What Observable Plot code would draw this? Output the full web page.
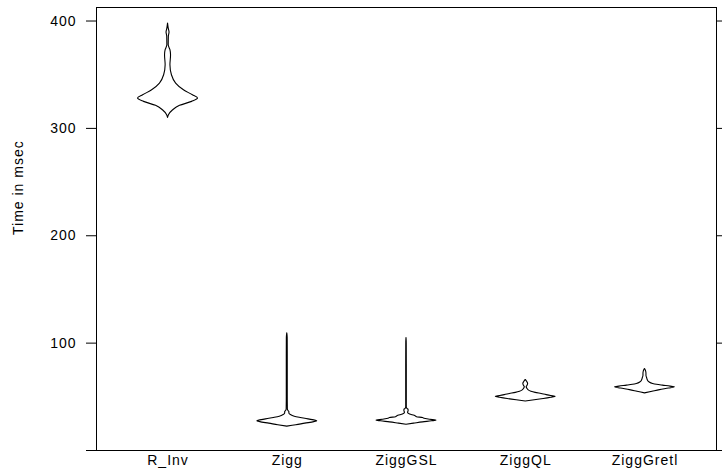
<!DOCTYPE html>
<html>
<head>
<meta charset="utf-8">
<script src="https://cdn.jsdelivr.net/npm/d3@7"></script>
<script src="https://cdn.jsdelivr.net/npm/@observablehq/plot@0.6"></script>
<style>
  html, body { margin: 0; padding: 0; background: white; }
</style>
</head>
<body>
<div id="chart"></div>
<script>
// Categories and tick labels
const categories = ["R_Inv", "Zigg", "ZiggGSL", "ZiggQL", "ZiggGretl"];
const yTicks = [0, 100, 200, 300, 400];

// Violin outlines: time (msec) and relative density (max = 1) per method
const rInvTime = [309.8, 312.2, 316.9, 321.0, 324.7, 327.8, 330.8, 335.5, 341.8, 349.5, 358.8, 368.1, 372.8, 377.4, 385.3, 389.3, 393.0, 397.7];
const rInvDens = [0, 0.03, 0.17, 0.40, 0.80, 1.0, 0.83, 0.53, 0.27, 0.13, 0.08, 0.10, 0.08, 0.023, 0.027, 0.05, 0.023, 0];

const ziggTime = [22.2, 23.5, 25.0, 26.4, 27.3, 28.3, 29.5, 30.3, 31.5, 33.1, 34.5, 35.7, 36.8, 38.0, 50, 70, 90, 105, 109.1];
const ziggDens = [0, 0.3, 0.6, 0.9, 1.0, 0.85, 0.6, 0.45, 0.25, 0.12, 0.07, 0.07, 0.04, 0.02, 0.016, 0.016, 0.016, 0.014, 0];

const gslTime = [24.0, 25.0, 26.2, 27.2, 27.8, 28.6, 29.5, 30.3, 31.0, 32.4, 33.5, 35.2, 36.5, 37.7, 38.8, 40, 60, 80, 100, 104.8];
const gslDens = [0, 0.25, 0.55, 0.85, 1.0, 0.8, 0.6, 0.55, 0.35, 0.27, 0.12, 0.05, 0.07, 0.07, 0.03, 0.01, 0.01, 0.01, 0.008, 0];

const qlTime = [45.7, 46.8, 48.0, 49.2, 50.1, 50.8, 51.6, 52.6, 53.7, 54.8, 56.0, 57.3, 58.8, 60.3, 62.0, 63.8, 65.7];
const qlDens = [0, 0.3, 0.6, 0.85, 1.0, 0.85, 0.7, 0.53, 0.33, 0.19, 0.1, 0.06, 0.03, 0.06, 0.08, 0.05, 0];

const gretlTime = [53.2, 54.7, 56.2, 57.7, 58.8, 59.5, 60.4, 61.2, 62.0, 63.5, 65.1, 67.5, 69.7, 71.5, 73.5, 75.0, 75.9];
const gretlDens = [0, 0.25, 0.5, 0.8, 1.0, 0.85, 0.6, 0.4, 0.27, 0.15, 0.1, 0.07, 0.05, 0.05, 0.04, 0.02, 0];

const series = [
  [rInvTime, rInvDens],
  [ziggTime, ziggDens],
  [gslTime, gslDens],
  [qlTime, qlDens],
  [gretlTime, gretlDens]
];

const rows = [];
series.forEach(([times, dens], i) => {
  times.forEach((t, j) => rows.push({c: i + 1, t, w: dens[j]}));
});

const halfWidth = 0.2516; // max half-width of a violin in category units

const chart = Plot.plot({
  width: 722,
  height: 470,
  marginLeft: 96,
  marginRight: 6,
  marginTop: 7,
  marginBottom: 20,
  x: {domain: [0.4, 5.6], axis: null},
  y: {domain: [0, 412.6], axis: null},
  style: {
    fontFamily: "'Liberation Sans', Arial, sans-serif",
    fontSize: "14px",
    color: "black",
    background: "white",
    letterSpacing: "1px"
  },
  marks: [
    Plot.frame({stroke: "black"}),
    Plot.axisY(yTicks, {anchor: "left", tickSize: 10, tickPadding: 10, tickFormat: d => d === 0 ? "" : String(d), label: null}),
    Plot.axisY(yTicks, {anchor: "right", tickSize: 10, tickFormat: () => "", label: null}),
    Plot.axisX([1, 2, 3, 4, 5], {anchor: "bottom", tickSize: 0, tickPadding: 5, tickFormat: d => categories[d - 1], label: null}),
    Plot.areaX(rows, {
      y: "t",
      x1: d => d.c - d.w * halfWidth,
      x2: d => d.c + d.w * halfWidth,
      z: "c",
      stroke: "black",
      strokeWidth: 1.1,
      fill: "none",
      curve: "monotone-y"
    }),
    Plot.text(["Time in msec"], {text: d => d, frameAnchor: "left", dx: -78, dy: 6, rotate: -90, fill: "black"})
  ]
});

document.getElementById("chart").appendChild(chart);
</script>
</body>
</html>
